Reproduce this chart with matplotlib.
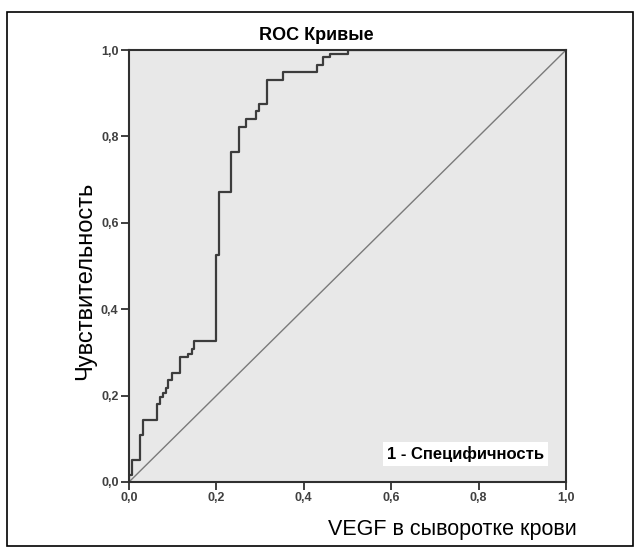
import matplotlib.pyplot as plt
from matplotlib.patches import Rectangle

plt.rcParams['font.family'] = ['Liberation Sans', 'DejaVu Sans']

# --- Données ---
fpr = [0.0, 0.0, 0.007, 0.025, 0.032, 0.064, 0.071, 0.078, 0.085, 0.089,
       0.098, 0.117, 0.135, 0.144, 0.149, 0.198, 0.206, 0.233, 0.252, 0.268,
       0.291, 0.297, 0.316, 0.352, 0.430, 0.444, 0.460, 0.501, 1.0]
tpr = [0.0, 0.016, 0.051, 0.109, 0.144, 0.181, 0.197, 0.206, 0.218, 0.236,
       0.252, 0.289, 0.296, 0.308, 0.326, 0.525, 0.671, 0.764, 0.822, 0.840,
       0.859, 0.875, 0.931, 0.949, 0.965, 0.984, 0.991, 1.0, 1.0]
ref_line = [0.0, 1.0]
ticks = [0.0, 0.2, 0.4, 0.6, 0.8, 1.0]
tick_labels = ["0,0", "0,2", "0,4", "0,6", "0,8", "1,0"]

W, H = 641, 553
fig = plt.figure(figsize=(W / 100, H / 100), dpi=100)
fig.patch.set_facecolor("white")

# cadre extérieur
fig.add_artist(Rectangle((7 / W, 1 - 546 / H), 626 / W, 534 / H,
                         transform=fig.transFigure, fill=False,
                         edgecolor="black", linewidth=1.2))

ax = fig.add_axes([129 / W, 71 / H, 437 / W, 432 / H])
ax.set_facecolor("#e8e8e8")

ax.plot(ref_line, ref_line, color="#7a7a7a", linewidth=1.0)
ax.plot(fpr, tpr, color="#3c3c3c", linewidth=1.6, drawstyle="steps-post")

ax.set_xlim(0, 1)
ax.set_ylim(0, 1)
ax.set_xticks(ticks)
ax.set_yticks(ticks)
ax.set_xticklabels(tick_labels)
ax.set_yticklabels(tick_labels)
for lab in ax.get_xticklabels() + ax.get_yticklabels():
    lab.set_fontweight("bold")
    lab.set_fontsize(9)
    lab.set_color("#404040")
ax.tick_params(direction="out", length=5.5, width=1.3, color="#303030", pad=2)
for sp in ax.spines.values():
    sp.set_linewidth(1.5)
    sp.set_color("#303030")

ax.text(0.59, 0.065, "1 - Специфичность", transform=ax.transAxes,
        fontsize=12, fontweight="bold", va="center", ha="left",
        bbox=dict(boxstyle="square,pad=0.25", facecolor="white", edgecolor="none"))

fig.text(316 / W, 1 - 35 / H, "ROC Кривые", fontsize=13, fontweight="bold",
         ha="center", va="center")
fig.text(85 / W, 1 - 281 / H, "Чувствительность", fontsize=17,
         rotation=90, ha="center", va="center")
fig.text(577 / W, 1 - 530 / H, "VEGF в сыворотке крови", fontsize=15.5,
         ha="right", va="center")

fig.savefig("out.png", dpi=100)
